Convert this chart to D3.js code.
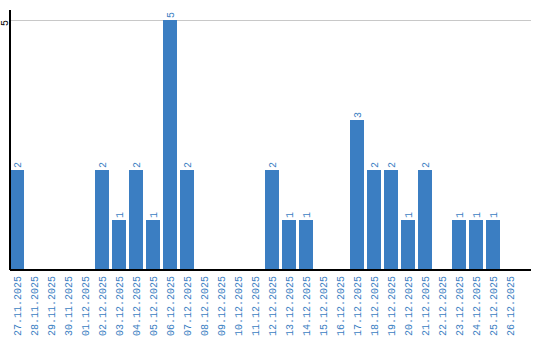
<!DOCTYPE html>
<html lang="en">
	<head>
		<meta charset="utf-8">
		<title>Daily counts</title>
		<script src="https://d3js.org/d3.v7.min.js"></script>
		<style>
			body { margin: 0; background: #fff; }
		</style>
	</head>
	<body>
		<script type="text/javascript">

			// data
			var dates = ["27.11.2025","28.11.2025","29.11.2025","30.11.2025","01.12.2025",
				"02.12.2025","03.12.2025","04.12.2025","05.12.2025","06.12.2025",
				"07.12.2025","08.12.2025","09.12.2025","10.12.2025","11.12.2025",
				"12.12.2025","13.12.2025","14.12.2025","15.12.2025","16.12.2025",
				"17.12.2025","18.12.2025","19.12.2025","20.12.2025","21.12.2025",
				"22.12.2025","23.12.2025","24.12.2025","25.12.2025","26.12.2025"];
			var counts = [2,0,0,0,0, 2,1,2,1,5, 2,0,0,0,0, 2,1,1,0,0, 3,2,2,1,2, 0,1,1,1,0];
			var yTicks = [5];

			// size
			var w = 540;
			var h = 340;
			var padLeft = 10;
			var padRight = 531;
			var padTop = 20;
			var baseY = 270;
			var blue = "#3b7ec2";
			var font = "Liberation Mono, DejaVu Sans Mono, monospace";

			var xScale = d3.scaleBand().domain(dates).range([padLeft, 517]).paddingInner(3/17).paddingOuter(0);
			var yScale = d3.scaleLinear().domain([0, 5]).range([baseY, padTop]);

			var svg = d3.select("body").append("svg").attr("width", w).attr("height", h);

			// grid line
			svg.selectAll("line.grid").data(yTicks).enter().append("line")
				.attr("class", "grid")
				.attr("x1", padLeft).attr("x2", padRight)
				.attr("y1", d => yScale(d) + 0.5).attr("y2", d => yScale(d) + 0.5)
				.attr("stroke", "#c8c8c8").attr("stroke-width", 1);

			// bars
			var items = dates.map((d, i) => ({date: d, value: counts[i]}));
			svg.selectAll("rect.bar").data(items).enter().append("rect")
				.attr("class", "bar")
				.attr("x", d => xScale(d.date))
				.attr("y", d => yScale(d.value))
				.attr("width", xScale.bandwidth())
				.attr("height", d => baseY - yScale(d.value))
				.attr("fill", blue);

			// value labels
			svg.selectAll("text.val").data(items.filter(d => d.value > 0)).enter().append("text")
				.attr("class", "val")
				.attr("transform", d => `translate(${xScale(d.date) + xScale.bandwidth() / 2},${yScale(d.value) - 2}) rotate(-90)`)
				.attr("dy", "0.35em")
				.attr("font-family", font).attr("font-size", "10px")
				.attr("fill", blue)
				.text(d => d.value);

			// date labels
			svg.selectAll("text.date").data(dates).enter().append("text")
				.attr("class", "date")
				.attr("transform", d => `translate(${xScale(d) + xScale.bandwidth() / 2},${baseY + 6}) rotate(-90)`)
				.attr("text-anchor", "end")
				.attr("dy", "0.35em")
				.attr("font-family", font).attr("font-size", "10px")
				.attr("fill", blue)
				.text(d => d);

			// axis lines
			svg.append("line").attr("x1", padLeft).attr("x2", padLeft).attr("y1", 10).attr("y2", baseY)
				.attr("stroke", "#000").attr("stroke-width", 2);
			svg.append("line").attr("x1", padLeft).attr("x2", padRight).attr("y1", baseY).attr("y2", baseY)
				.attr("stroke", "#000").attr("stroke-width", 2);

			// y tick label
			svg.selectAll("text.ytick").data(yTicks).enter().append("text")
				.attr("class", "ytick")
				.attr("transform", d => `translate(4,${yScale(d)}) rotate(-90)`)
				.attr("text-anchor", "end")
				.attr("dy", "0.35em")
				.attr("font-family", font).attr("font-size", "10px")
				.attr("fill", "#000")
				.text(d => d);

		</script>
	</body>
</html>
